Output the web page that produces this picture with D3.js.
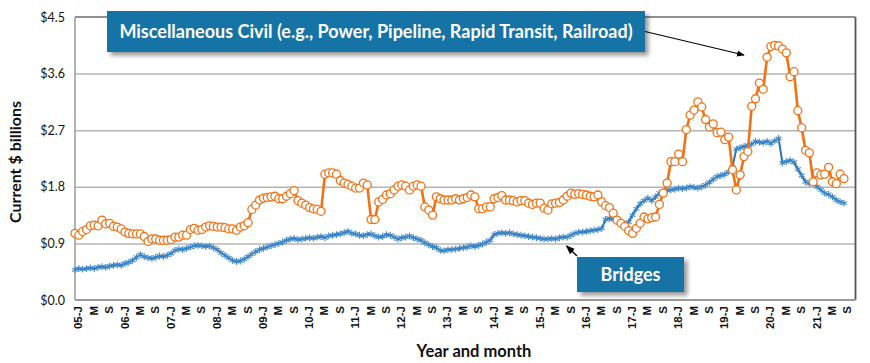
<!DOCTYPE html>
<html><head><meta charset="utf-8">
<script src="https://cdn.jsdelivr.net/npm/d3@7"></script>
<style>
body{margin:0;background:#fff;}
svg{display:block;font-family:Lato,"Open Sans",sans-serif;}
</style>
</head><body>
<svg id="chart" width="870" height="363"></svg>
<script>
// ---------- DATA ----------
const years = ["05","06","07","08","09","10","11","12","13","14","15","16","17","18","19","20","21"];
const monthCodes = ["01","02","03","04","05","06","07","08","09","10","11","12"];
const tickLabels = [
 "05-J","M","S","06-J","M","S","07-J","M","S","08-J","M","S","09-J","M","S",
 "10-J","M","S","11-J","M","S","12-J","M","S","13-J","M","S","14-J","M","S",
 "15-J","M","S","16-J","M","S","17-J","M","S","18-J","M","S","19-J","M","S",
 "20-J","M","S","21-J","M","S"];
const yTicks = [0, 0.9, 1.8, 2.7, 3.6, 4.5];

const miscCivil = [
 1.06,1.03,1.09,1.12,1.18,1.19,1.18,1.27,1.21,1.22,1.17,1.16,
 1.13,1.08,1.06,1.05,1.05,1.05,1.01,0.93,0.97,0.97,0.95,0.95,
 0.95,0.96,1.00,1.00,1.03,1.03,1.12,1.14,1.11,1.12,1.16,1.18,
 1.17,1.16,1.16,1.15,1.13,1.13,1.11,1.16,1.18,1.23,1.44,1.51,
 1.59,1.62,1.63,1.64,1.65,1.61,1.61,1.65,1.69,1.74,1.58,1.54,
 1.51,1.47,1.45,1.44,1.41,2.00,2.02,2.02,2.00,1.90,1.86,1.84,
 1.81,1.78,1.78,1.86,1.83,1.28,1.28,1.56,1.60,1.67,1.69,1.75,
 1.81,1.83,1.81,1.75,1.81,1.83,1.81,1.48,1.43,1.35,1.64,1.61,
 1.59,1.59,1.59,1.61,1.59,1.61,1.63,1.67,1.64,1.45,1.45,1.48,
 1.48,1.61,1.63,1.66,1.59,1.59,1.58,1.56,1.58,1.58,1.54,1.52,
 1.54,1.54,1.46,1.43,1.53,1.54,1.55,1.59,1.65,1.70,1.68,1.69,
 1.68,1.67,1.65,1.64,1.67,1.56,1.50,1.47,1.38,1.27,1.22,1.17,
 1.10,1.06,1.14,1.22,1.32,1.29,1.31,1.32,1.52,1.70,1.86,2.20,
 2.20,2.32,2.20,2.71,2.94,3.02,3.15,3.07,2.87,2.75,2.80,2.66,
 2.67,2.55,2.59,2.07,1.75,1.99,2.28,2.36,3.08,3.20,3.45,3.35,
 3.86,4.03,4.05,4.04,3.99,3.93,3.55,3.63,3.01,2.74,2.38,2.34,
 1.88,2.02,1.99,2.00,2.11,1.88,1.85,2.00,1.93];

const bridges = [
 0.48,0.50,0.49,0.50,0.51,0.50,0.52,0.53,0.52,0.54,0.55,0.56,
 0.55,0.58,0.60,0.63,0.68,0.72,0.69,0.67,0.66,0.68,0.70,0.69,
 0.71,0.74,0.79,0.81,0.80,0.82,0.84,0.86,0.87,0.86,0.85,0.86,
 0.83,0.80,0.75,0.71,0.67,0.63,0.61,0.62,0.65,0.69,0.73,0.77,
 0.80,0.82,0.84,0.86,0.88,0.90,0.92,0.95,0.97,0.98,0.96,0.97,
 0.98,0.99,0.98,1.00,1.01,0.99,1.02,1.03,1.04,1.05,1.07,1.09,
 1.06,1.05,1.03,1.02,1.04,1.05,1.02,1.00,1.01,1.04,1.03,1.00,
 0.97,0.99,1.00,1.02,0.99,0.97,0.95,0.91,0.88,0.85,0.83,0.79,
 0.78,0.80,0.80,0.81,0.82,0.83,0.84,0.86,0.85,0.87,0.89,0.92,
 0.95,1.04,1.06,1.07,1.06,1.07,1.05,1.04,1.03,1.02,1.01,1.00,
 0.99,0.98,0.97,0.97,0.98,0.97,0.99,1.00,1.00,1.03,1.06,1.08,
 1.08,1.09,1.10,1.11,1.12,1.14,1.28,1.30,1.28,1.26,1.22,1.21,
 1.24,1.35,1.45,1.53,1.58,1.62,1.58,1.64,1.70,1.72,1.74,1.75,
 1.76,1.78,1.77,1.78,1.80,1.79,1.78,1.80,1.83,1.87,1.92,1.96,
 1.98,2.00,2.04,2.12,2.40,2.42,2.44,2.46,2.48,2.52,2.51,2.50,
 2.52,2.49,2.53,2.57,2.18,2.20,2.22,2.19,2.08,1.98,1.88,1.85,
 1.86,1.80,1.75,1.70,1.68,1.64,1.59,1.56,1.54];

// categories: every month Jan 2005 .. Dec 2021
const categories = [];
years.forEach(yy => monthCodes.forEach(m => categories.push(yy + "-" + m)));

// ---------- LAYOUT ----------
const svg = d3.select("#chart");
const pL = 75, pR = 855.5, pT = 17, pB = 300;
const orange = "#F07215", blue = "#2C74B5", boxFill = "#1273A6";

const x = d3.scalePoint().domain(categories).range([pL, pR]);
const y = d3.scaleLinear().domain([0, 4.5]).range([pB, pT]);

const defs = svg.append("defs");
const f = defs.append("filter").attr("id","shadow").attr("x","-10%").attr("y","-20%").attr("width","130%").attr("height","160%");
f.append("feDropShadow").attr("dx",3.5).attr("dy",3.5).attr("stdDeviation",2).attr("flood-color","#000").attr("flood-opacity",0.4);
defs.append("marker").attr("id","arrow").attr("viewBox","0 0 10 10").attr("refX",9).attr("refY",5)
  .attr("markerWidth",7).attr("markerHeight",7).attr("orient","auto-start-reverse")
  .append("path").attr("d","M0,1 L10,5 L0,9 Z").attr("fill","#000");

// gridlines
const grid = svg.append("g").attr("transform",`translate(${pL},0)`)
  .call(d3.axisLeft(y).tickValues(yTicks.filter(d => d > 0 && d < 4.5)).tickSize(-(pR - pL)).tickFormat(""));
grid.select(".domain").remove();
grid.selectAll("line").attr("stroke","#b4b4b4").attr("stroke-width",1.5);

// frame
svg.append("line").attr("x1",pL).attr("x2",pR).attr("y1",pT).attr("y2",pT).attr("stroke","#222").attr("stroke-width",1.2);
svg.append("line").attr("x1",pR).attr("x2",pR).attr("y1",pT).attr("y2",pB).attr("stroke","#555").attr("stroke-width",1.8);
svg.append("line").attr("x1",pL).attr("x2",pL).attr("y1",pT).attr("y2",pB).attr("stroke","#9a9a9a").attr("stroke-width",1.5);
svg.append("line").attr("x1",pL).attr("x2",pR).attr("y1",pB).attr("y2",pB).attr("stroke","#9a9a9a").attr("stroke-width",2);

// y axis labels
const yAxis = svg.append("g").attr("transform",`translate(${pL},0)`)
  .call(d3.axisLeft(y).tickValues(yTicks).tickSize(0).tickPadding(10).tickFormat(d => "$" + d.toFixed(1)));
yAxis.select(".domain").remove();
yAxis.selectAll("text").attr("font-size",12.5).attr("fill","#111").attr("font-family","Lato, sans-serif");

// x axis labels
const xTickVals = categories.filter((d,i) => i % 4 === 0);
const xAxis = svg.append("g").attr("transform",`translate(0,${pB})`)
  .call(d3.axisBottom(x).tickValues(xTickVals).tickSize(0).tickFormat((d,i) => tickLabels[i]));
xAxis.select(".domain").remove();
xAxis.selectAll("text")
  .attr("font-size",11.5).attr("font-weight",700).attr("fill","#111")
  .attr("text-anchor","end")
  .attr("x",-6).attr("y",0).attr("dy","0.38em").attr("dx",0)
  .attr("transform","translate(2.5,0) rotate(-90)");

// axis titles
svg.append("text").attr("x",474).attr("y",357).attr("text-anchor","middle")
  .attr("font-size",16.5).attr("font-weight",700).attr("fill","#111").text("Year and month");
svg.append("text").attr("transform","translate(21,162) rotate(-90)").attr("text-anchor","middle")
  .attr("font-size",16).attr("font-weight",700).attr("fill","#111").text("Current $ billions");

// series: bridges
const bData = bridges.map((v,i) => ({c: categories[i], v}));
const oData = miscCivil.map((v,i) => ({c: categories[i], v}));
const line = d3.line().x(d => x(d.c)).y(d => y(d.v));

svg.append("path").datum(bData).attr("d", line).attr("fill","none").attr("stroke",blue).attr("stroke-width",2);
svg.append("g").selectAll("path").data(bData).join("path")
  .attr("transform", d => `translate(${x(d.c)},${y(d.v)})`)
  .attr("d", d3.symbol(d3.symbolAsterisk, 32))
  .attr("fill","none").attr("stroke","#3d86c8").attr("stroke-width",1.1);

// series: misc civil
svg.append("path").datum(oData).attr("d", line).attr("fill","none").attr("stroke",orange).attr("stroke-width",2.6);
svg.append("g").selectAll("circle").data(oData).join("circle")
  .attr("cx", d => x(d.c)).attr("cy", d => y(d.v)).attr("r",4)
  .attr("fill","#fff").attr("stroke",orange).attr("stroke-width",1.3);

// annotation boxes
function box(x0, y0, w, h, label, fs) {
  svg.append("rect").attr("x",x0).attr("y",y0).attr("width",w).attr("height",h)
    .attr("fill",boxFill).attr("filter","url(#shadow)");
  svg.append("text").attr("x",x0 + w/2).attr("y",y0 + h/2).attr("dy","0.36em")
    .attr("text-anchor","middle").attr("fill","#fff").attr("font-size",fs).attr("font-weight",700)
    .text(label);
}
box(107, 11, 538, 41, "Miscellaneous Civil (e.g., Power, Pipeline, Rapid Transit, Railroad)", 18);
box(577, 257, 107, 35, "Bridges", 18);

svg.append("line").attr("x1",645).attr("y1",31.5).attr("x2",744).attr("y2",55)
  .attr("stroke","#000").attr("stroke-width",1.1).attr("marker-end","url(#arrow)");
svg.append("line").attr("x1",577).attr("y1",256).attr("x2",566.5).attr("y2",246)
  .attr("stroke","#000").attr("stroke-width",1.3).attr("marker-end","url(#arrow)");
</script>
</body></html>
